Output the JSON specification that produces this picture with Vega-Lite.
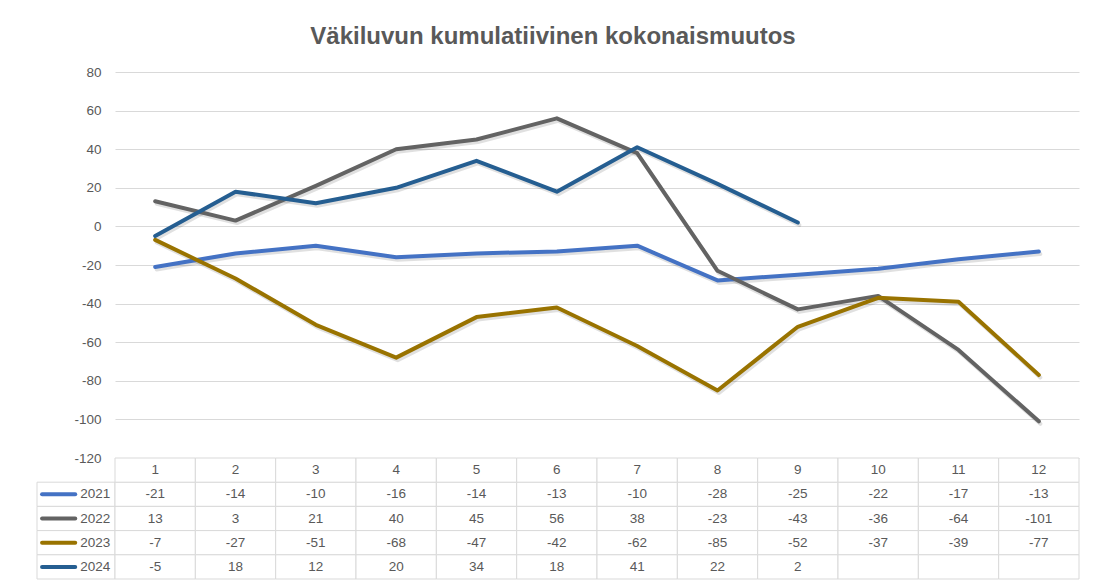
{
  "$schema": "https://vega.github.io/schema/vega-lite/v6.json",
  "autosize": {"type": "pad"},
  "padding": {"left": 36, "top": 25, "right": 0, "bottom": 0},
  "background": "white",
  "title": {
    "text": "Väkiluvun kumulatiivinen kokonaismuutos",
    "fontSize": 24,
    "fontWeight": "bold",
    "color": "#595959",
    "anchor": "middle",
    "dx": -5,
    "offset": 16
  },
  "datasets": {
    "d": [
      {"year": "2021", "month": 1, "value": -21},
      {"year": "2021", "month": 2, "value": -14},
      {"year": "2021", "month": 3, "value": -10},
      {"year": "2021", "month": 4, "value": -16},
      {"year": "2021", "month": 5, "value": -14},
      {"year": "2021", "month": 6, "value": -13},
      {"year": "2021", "month": 7, "value": -10},
      {"year": "2021", "month": 8, "value": -28},
      {"year": "2021", "month": 9, "value": -25},
      {"year": "2021", "month": 10, "value": -22},
      {"year": "2021", "month": 11, "value": -17},
      {"year": "2021", "month": 12, "value": -13},
      {"year": "2022", "month": 1, "value": 13},
      {"year": "2022", "month": 2, "value": 3},
      {"year": "2022", "month": 3, "value": 21},
      {"year": "2022", "month": 4, "value": 40},
      {"year": "2022", "month": 5, "value": 45},
      {"year": "2022", "month": 6, "value": 56},
      {"year": "2022", "month": 7, "value": 38},
      {"year": "2022", "month": 8, "value": -23},
      {"year": "2022", "month": 9, "value": -43},
      {"year": "2022", "month": 10, "value": -36},
      {"year": "2022", "month": 11, "value": -64},
      {"year": "2022", "month": 12, "value": -101},
      {"year": "2023", "month": 1, "value": -7},
      {"year": "2023", "month": 2, "value": -27},
      {"year": "2023", "month": 3, "value": -51},
      {"year": "2023", "month": 4, "value": -68},
      {"year": "2023", "month": 5, "value": -47},
      {"year": "2023", "month": 6, "value": -42},
      {"year": "2023", "month": 7, "value": -62},
      {"year": "2023", "month": 8, "value": -85},
      {"year": "2023", "month": 9, "value": -52},
      {"year": "2023", "month": 10, "value": -37},
      {"year": "2023", "month": 11, "value": -39},
      {"year": "2023", "month": 12, "value": -77},
      {"year": "2024", "month": 1, "value": -5},
      {"year": "2024", "month": 2, "value": 18},
      {"year": "2024", "month": 3, "value": 12},
      {"year": "2024", "month": 4, "value": 20},
      {"year": "2024", "month": 5, "value": 34},
      {"year": "2024", "month": 6, "value": 18},
      {"year": "2024", "month": 7, "value": 41},
      {"year": "2024", "month": 8, "value": 22},
      {"year": "2024", "month": 9, "value": 2},
      {"year": "2024", "month": 10, "value": null},
      {"year": "2024", "month": 11, "value": null},
      {"year": "2024", "month": 12, "value": null}
    ]
  },
  "columns": 2,
  "spacing": 0,
  "bounds": "flush",
  "align": "each",
  "resolve": {"scale": {"x": "independent", "y": "independent"}},
  "concat": [
    {
      "width": 78,
      "height": 386,
      "data": {"values": [{"a": 1}]},
      "mark": {"type": "point", "opacity": 0},
      "encoding": {}
    },
    {
      "width": 964,
      "height": 386,
      "data": {"name": "d"},
      "transform": [{"filter": "datum.value != null"}],
      "encoding": {
        "x": {"field": "month", "type": "ordinal", "scale": {"type": "point", "padding": 0.5, "domain": [1,2,3,4,5,6,7,8,9,10,11,12]}, "axis": null},
        "y": {"field": "value", "type": "quantitative", "scale": {"domain": [-120, 80], "nice": false, "zero": false},
          "axis": {"values": [-120,-100,-80,-60,-40,-20,0,20,40,60,80], "labelExpr": "'' + datum.value", "grid": true, "gridColor": "#d9d9d9", "gridWidth": 1, "domain": false, "ticks": false, "labelPadding": 14, "title": null, "labelFontSize": 13.5, "labelColor": "#595959"}},
        "color": {"field": "year", "type": "nominal", "scale": {"domain": ["2021","2022","2023","2024"], "range": ["#4472C4","#636363","#997300","#255E91"]}, "legend": null}
      },
      "layer": [
        {"mark": {"type": "line", "strokeWidth": 4, "strokeCap": "round", "strokeJoin": "round", "color": "#000000", "opacity": 0.12, "xOffset": 1.5, "yOffset": 2.5}, "encoding": {"detail": {"field": "year"}, "color": {"value": "#000000"}}},
        {"mark": {"type": "line", "strokeWidth": 4, "strokeCap": "round", "strokeJoin": "round"}}
      ]
    },
    {
      "width": 78,
      "height": 121,
      "data": {"name": "d"},
      "transform": [{"filter": "datum.month == 1"}],
      "encoding": {
        "y": {"field": "year", "type": "nominal", "bandPosition": 0.5, "scale": {"type": "band", "domain": ["h","2021","2022","2023","2024"], "paddingInner": 0, "paddingOuter": 0}, "axis": null}
      },
      "layer": [
        {"mark": {"type": "rect", "fill": "white", "stroke": "#d9d9d9", "strokeWidth": 1},
         "encoding": {
           "y": {"field": "year", "type": "nominal"},
           "x": {"datum": 0, "type": "quantitative", "scale": {"domain": [0, 1]}, "axis": null},
           "x2": {"datum": 1}
         }},
        {"mark": {"type": "rule", "strokeWidth": 4, "strokeCap": "round"},
         "encoding": {
           "x": {"datum": 0.065, "type": "quantitative"},
           "x2": {"datum": 0.49},
           "color": {"field": "year", "type": "nominal", "scale": {"domain": ["2021","2022","2023","2024"], "range": ["#4472C4","#636363","#997300","#255E91"]}, "legend": null}
         }},
        {"mark": {"type": "text", "align": "right", "baseline": "middle", "fontSize": 13.5, "color": "#595959"},
         "encoding": {
           "x": {"datum": 0.94, "type": "quantitative"},
           "text": {"field": "year"}
         }}
      ]
    },
    {
      "width": 964,
      "height": 121,
      "data": {"name": "d"},
      "encoding": {
        "x": {"field": "month", "type": "ordinal", "scale": {"type": "band", "paddingInner": 0, "paddingOuter": 0, "domain": [1,2,3,4,5,6,7,8,9,10,11,12]}, "axis": null},
        "y": {"field": "year", "type": "nominal", "scale": {"type": "band", "domain": ["h","2021","2022","2023","2024"], "paddingInner": 0, "paddingOuter": 0}, "axis": null}
      },
      "layer": [
        {"mark": {"type": "rect", "fill": "white", "stroke": "#d9d9d9", "strokeWidth": 1}},
        {"transform": [{"filter": "datum.year == '2021'"}],
         "mark": {"type": "rect", "fill": "white", "stroke": "#d9d9d9", "strokeWidth": 1},
         "encoding": {"y": {"datum": "h", "type": "nominal"}}},
        {"transform": [{"filter": "datum.value != null"}],
         "mark": {"type": "text", "baseline": "middle", "align": "center", "fontSize": 13.5, "color": "#595959"},
         "encoding": {
           "x": {"field": "month", "type": "ordinal", "bandPosition": 0.5},
           "y": {"field": "year", "type": "nominal", "bandPosition": 0.5},
           "text": {"field": "value", "type": "nominal"}
         }},
        {"transform": [{"filter": "datum.year == '2021'"}],
         "mark": {"type": "text", "baseline": "middle", "align": "center", "fontSize": 13.5, "color": "#595959"},
         "encoding": {
           "x": {"field": "month", "type": "ordinal", "bandPosition": 0.5},
           "y": {"datum": "h", "type": "nominal", "bandPosition": 0.5},
           "text": {"field": "month", "type": "ordinal"}
         }}
      ]
    }
  ],
  "config": {
    "font": "Liberation Sans",
    "view": {"stroke": null}
  }
}
